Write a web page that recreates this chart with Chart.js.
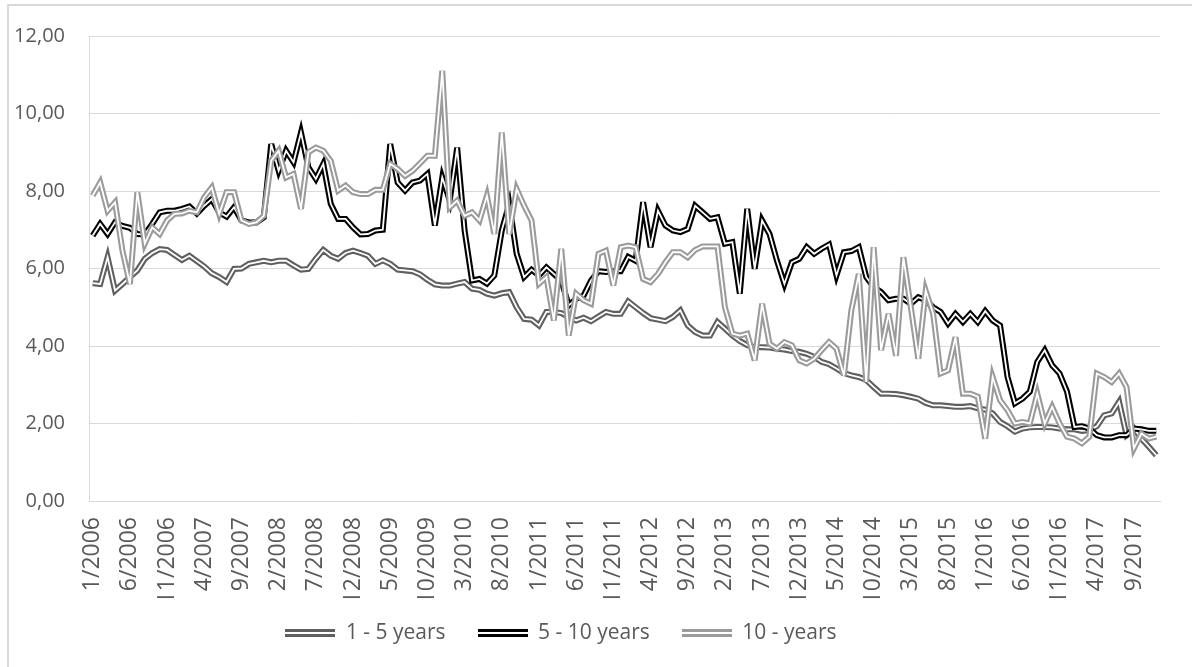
<!DOCTYPE html>
<html>
<head>
<meta charset="utf-8">
<script src="https://cdn.jsdelivr.net/npm/chart.js@4.4.1/dist/chart.umd.min.js"></script>
<style>
  html, body { margin: 0; padding: 0; background: #ffffff; }
  #wrap { position: relative; width: 1192px; height: 667px; overflow: hidden; }
  #frame { position: absolute; left: 7px; top: 4px; width: 1400px; height: 900px;
           border-top: 2px solid #d9d9d9; border-left: 2px solid #d9d9d9; }
  #c { position: absolute; left: 0; top: 0; }
</style>
</head>
<body>
<div id="wrap">
  <div id="frame"></div>
  <canvas id="c" width="1192" height="667"></canvas>
</div>
<script>
// ---------- data ----------
const months = [];
for (let y = 2006; y <= 2017; y++) { for (let m = 1; m <= 12; m++) { months.push(m + '/' + y); } }

const seriesNames = ['1 - 5 years', '5 - 10 years', '10 - years'];

const years1to5 = [
  5.62,5.60,6.29,5.43,5.60,5.78,5.95,6.25,6.40,6.50,6.48,6.35,
  6.22,6.33,6.19,6.05,5.88,5.78,5.65,5.99,6.00,6.12,6.16,6.20,
  6.16,6.20,6.20,6.08,5.97,5.99,6.25,6.48,6.33,6.25,6.40,6.46,
  6.40,6.33,6.12,6.21,6.12,5.97,5.95,5.93,5.85,5.71,5.59,5.56,
  5.56,5.61,5.65,5.48,5.45,5.35,5.30,5.36,5.39,5.00,4.70,4.68,
  4.53,4.88,4.88,4.85,4.75,4.66,4.73,4.64,4.76,4.88,4.83,4.83,
  5.15,5.00,4.85,4.72,4.68,4.64,4.75,4.92,4.53,4.36,4.27,4.27,
  4.62,4.45,4.27,4.13,4.02,3.97,3.97,3.96,3.93,3.91,3.87,3.85,
  3.80,3.72,3.59,3.53,3.42,3.30,3.24,3.20,3.12,2.94,2.77,2.77,
  2.76,2.73,2.69,2.64,2.53,2.47,2.47,2.45,2.43,2.43,2.45,2.39,
  2.36,2.26,2.04,1.93,1.79,1.87,1.90,1.91,1.91,1.90,1.87,1.85,
  1.85,1.81,1.83,1.93,2.21,2.26,2.56,1.70,1.87,1.61,1.40,1.18
];
const years5to10 = [
  6.85,7.15,6.89,7.19,7.10,7.05,6.89,6.88,7.15,7.45,7.49,7.49,
  7.54,7.60,7.42,7.62,7.79,7.45,7.34,7.58,7.24,7.19,7.19,7.32,
  9.21,8.52,9.04,8.74,9.51,8.61,8.31,8.70,7.67,7.28,7.28,7.06,
  6.88,6.89,6.98,7.00,9.21,8.22,8.01,8.22,8.27,8.44,7.11,8.35,
  7.75,9.12,6.98,5.69,5.73,5.61,5.82,6.98,7.67,6.38,5.78,5.97,
  5.82,6.03,5.86,5.69,5.05,5.22,5.30,5.69,5.93,5.91,5.93,5.93,
  6.30,6.20,7.71,6.55,7.49,7.11,6.98,6.94,7.02,7.62,7.45,7.28,
  7.32,6.64,6.68,5.35,7.54,5.99,7.24,6.89,6.20,5.60,6.16,6.25,
  6.55,6.38,6.51,6.62,5.82,6.42,6.45,6.55,5.78,5.52,5.39,5.18,
  5.22,5.22,5.09,5.26,5.18,5.00,4.88,4.58,4.83,4.62,4.83,4.62,
  4.90,4.66,4.53,3.20,2.52,2.64,2.82,3.59,3.89,3.50,3.29,2.82,
  1.91,1.93,1.87,1.70,1.64,1.64,1.70,1.70,1.87,1.85,1.81,1.81
];
const years10plus = [
  7.88,8.22,7.49,7.71,6.46,5.60,7.97,6.64,7.06,6.89,7.24,7.41,
  7.42,7.49,7.45,7.84,8.09,7.41,7.97,7.97,7.24,7.15,7.19,7.36,
  8.78,9.04,8.35,8.44,7.54,9.00,9.12,9.04,8.78,8.01,8.14,7.97,
  7.92,7.92,8.03,8.03,8.70,8.57,8.39,8.52,8.71,8.91,8.91,11.10,
  7.58,7.75,7.36,7.45,7.24,7.88,6.89,9.51,6.89,8.05,7.62,7.24,
  5.61,5.78,4.66,6.51,4.27,5.35,5.18,5.09,6.38,6.46,5.56,6.55,
  6.59,6.55,5.73,5.65,5.86,6.16,6.42,6.42,6.29,6.48,6.57,6.57,
  6.57,5.00,4.32,4.27,4.32,3.63,5.09,4.06,3.93,4.10,4.02,3.63,
  3.55,3.67,3.89,4.10,3.93,3.24,4.92,5.86,3.07,6.55,3.89,4.83,
  3.75,6.29,5.00,3.67,5.43,4.83,3.29,3.37,4.23,2.77,2.77,2.69,
  1.61,3.20,2.60,2.34,2.00,2.04,2.00,2.77,2.00,2.43,2.00,1.66,
  1.61,1.49,1.66,3.29,3.20,3.07,3.29,2.94,1.36,1.74,1.61,1.66
];

const yTickValues = [0, 2, 4, 6, 8, 10, 12];
const labelEvery = 5;

// ---------- style ----------
const colors = ['#5f5f5f', '#000000', '#9b9b9b'];
const textColor = '#595959';
const gridColor = '#d9d9d9';
const FONT = "'Open Sans', 'Noto Sans', sans-serif";
const PLOT_LEFT = 89, LABEL_CLIP = 97;
const X_AXIS_H = 89.5, LEGEND_H = 76.5, LEGEND_SHIFT = 19;

function makeSample(color) {
  const c = document.createElement('canvas');
  c.width = 50; c.height = 8;
  const g = c.getContext('2d');
  g.fillStyle = color; g.fillRect(0, 0, 50, 8);
  g.fillStyle = '#ffffff'; g.fillRect(0, 3, 50, 2);
  return c;
}
const samples = colors.map(makeSample);

const doubleLine = {
  id: 'doubleLine',
  beforeDatasetsDraw(chart) { chart.ctx.miterLimit = 5; },
  afterDatasetDraw(chart, args) {
    const pts = args.meta.data;
    const ctx = chart.ctx;
    ctx.save();
    ctx.beginPath();
    pts.forEach((p, i) => { if (i === 0) ctx.moveTo(p.x, p.y); else ctx.lineTo(p.x, p.y); });
    ctx.lineWidth = 1.8;
    ctx.strokeStyle = '#ffffff';
    ctx.lineJoin = 'miter';
    ctx.miterLimit = 5;
    ctx.stroke();
    ctx.restore();
  },
  afterDatasetsDraw(chart) { chart.ctx.miterLimit = 10; }
};

const layoutFix = {
  id: 'layoutFix',
  beforeLayout(chart) {
    const lg = chart.legend;
    if (lg && !lg._fixed) {
      const orig = lg.fit;
      lg.fit = function () { orig.call(this); this.height = LEGEND_H; };
      lg._fixed = true;
    }
  },
  afterLayout(chart) {
    const lg = chart.legend;
    if (lg) { lg.left -= LEGEND_SHIFT; lg.right -= LEGEND_SHIFT; }
    const xs = chart.scales.x;
    if (xs && !xs._clipped) {
      // label clip band below the axis (labels are cut like in the source)
      xs._computeLabelArea = function () {
        return { top: this.top, left: 0, bottom: this.top + LABEL_CLIP, right: this.chart.width };
      };
      xs._clipped = true;
    }
  }
};

const seriesData = [years1to5, years5to10, years10plus];

new Chart(document.getElementById('c'), {
  type: 'line',
  data: {
    labels: months,
    datasets: seriesNames.map((name, k) => ({
      label: name,
      data: seriesData[k],
      borderColor: colors[k],
      backgroundColor: colors[k],
      borderWidth: 6,
      borderJoinStyle: 'miter',
      pointRadius: 0,
      tension: 0,
      fill: false,
      order: 2 - k
    }))
  },
  options: {
    responsive: false,
    animation: false,
    devicePixelRatio: 1,
    layout: { padding: { left: 0, right: 32, top: 34, bottom: 0 } },
    scales: {
      x: {
        type: 'category',
        offset: true,
        grid: { display: false },
        border: { display: true, color: gridColor, width: 1 },
        ticks: {
          autoSkip: false,
          maxRotation: 90,
          minRotation: 90,
          padding: 8,
          color: textColor,
          font: { family: FONT, size: 23 },
          callback: function (val, idx) { return idx % labelEvery === 0 ? this.getLabelForValue(val) : ''; }
        },
        afterFit(s) { s.height = X_AXIS_H; }
      },
      y: {
        min: 0, max: 12,
        afterBuildTicks(s) { s.ticks = yTickValues.map(v => ({ value: v })); },
        grid: { color: gridColor, lineWidth: 1, drawTicks: false },
        border: { display: true, color: gridColor, width: 1 },
        ticks: {
          padding: 24,
          color: textColor,
          font: { family: FONT, size: 20 },
          callback: v => v.toFixed(2).replace('.', ',')
        },
        afterFit(s) { s.width = PLOT_LEFT; }
      }
    },
    plugins: {
      legend: {
        position: 'bottom',
        labels: {
          usePointStyle: true,
          pointStyleWidth: 50,
          boxHeight: 8,
          padding: 32,
          color: textColor,
          font: { family: FONT, size: 21 },
          sort: (a, b) => a.datasetIndex - b.datasetIndex,
          generateLabels(chart) {
            const items = Chart.defaults.plugins.legend.labels.generateLabels(chart);
            items.forEach(it => { it.pointStyle = samples[it.datasetIndex]; it.lineWidth = 0; });
            return items;
          }
        }
      },
      tooltip: { enabled: false }
    }
  },
  plugins: [doubleLine, layoutFix]
});
</script>
</body>
</html>
